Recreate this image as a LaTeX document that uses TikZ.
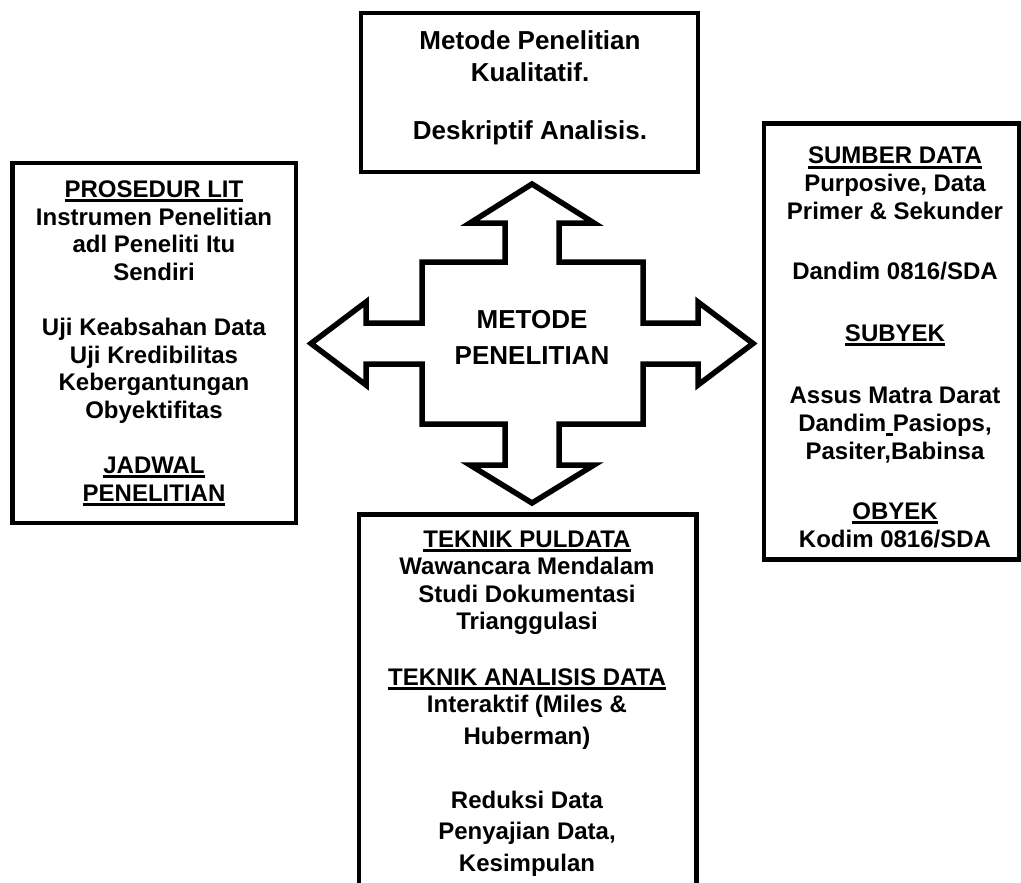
\documentclass[tikz,border=0pt]{standalone}
\usepackage{fontspec}
\setmainfont{Liberation Sans}
\newsavebox\ulbox
\newcommand\ulx[1]{\sbox\ulbox{#1}\rlap{\rule[-4.5pt]{\wd\ulbox}{3pt}}\usebox\ulbox}
\newcommand\mylines[1]{\begin{tabular}[t]{@{}c@{}}#1\end{tabular}}
\begin{document}
\begin{tikzpicture}[x=1pt,y=-1pt,
  box/.style={draw, line width=4.8pt, inner sep=0pt, outer sep=0pt},
  crossarrow/.style={draw, line width=5.5pt, line join=miter, miter limit=10},
  txt/.style={anchor=base, inner sep=0pt, font=\bfseries\fontsize{24}{27.6}\selectfont},
  bigtxt/.style={anchor=base, inner sep=0pt, font=\bfseries\fontsize{26}{30}\selectfont}]
\useasboundingbox (0,0) rectangle (1021,883);
\clip (0,0) rectangle (1021,883);

% boxes
\node[box, minimum width=337pt, minimum height=159pt] (topbox) at (529.5,92.5) {};
\node[box, minimum width=283.5pt, minimum height=360pt] (leftbox) at (154.25,343) {};
\node[box, minimum width=255pt, minimum height=436pt] (rightbox) at (891.5,341.5) {};
\node[box, minimum width=337.5pt, minimum height=385.5pt] (bottombox) at (527.75,707.25) {};

% central four-way arrow
\draw[crossarrow] (532,184) -- (594,223) -- (559,223) -- (559,262) -- (643,262)
  -- (643,323) -- (698,323) -- (698,302) -- (753,343.5) -- (698,385) -- (698,364)
  -- (643,364) -- (643,424) -- (559,424) -- (559,465) -- (594,465) -- (532,503)
  -- (470,465) -- (505,465) -- (505,424) -- (422,424) -- (422,364) -- (366,364)
  -- (366,385) -- (311,343.5) -- (366,302) -- (366,323) -- (422,323) -- (422,262)
  -- (505,262) -- (505,223) -- (470,223) -- cycle;

\node[bigtxt] (center) at (532,328) {\mylines{METODE\\[6.7pt] PENELITIAN}};

% texts
\node[bigtxt] (toptext) at (530,50) {\mylines{Metode Penelitian\\[1.7pt]
  Kualitatif.\\[28.3pt]
  Deskriptif Analisis.}};

\node[txt] (lefttext) at (154,197.5) {\mylines{\ulx{PROSEDUR LIT}\\
  Instrumen Penelitian\\
  adl Peneliti Itu\\
  Sendiri\\[27.6pt]
  Uji Keabsahan Data\\
  Uji Kredibilitas\\
  Kebergantungan\\
  Obyektifitas\\[27.6pt]
  \ulx{JADWAL}\\
  \ulx{PENELITIAN}}};

\node[txt] (righttext) at (895,164) {\mylines{\ulx{SUMBER DATA}\\[0.4pt]
  Purposive, Data\\[0.4pt]
  Primer \& Sekunder\\[32.4pt]
  Dandim 0816/SDA\\[34.4pt]
  \ulx{SUBYEK}\\[34.4pt]
  Assus Matra Darat\\[0.4pt]
  Dandim\ulx{\ }Pasiops,\\[0.4pt]
  Pasiter,Babinsa\\[32.4pt]
  \ulx{OBYEK}\\
  Kodim 0816/SDA}};

\node[txt] (bottomtext) at (527,547) {\mylines{\ulx{TEKNIK PULDATA}\\
  Wawancara Mendalam\\
  Studi Dokumentasi\\
  Trianggulasi\\[27.6pt]
  \ulx{TEKNIK ANALISIS DATA}\\
  Interaktif (Miles \&\\[3.8pt]
  Huberman)\\[36.4pt]
  Reduksi Data\\[3.7pt]
  Penyajian Data,\\[4.1pt]
  Kesimpulan}};
\end{tikzpicture}
\end{document}
